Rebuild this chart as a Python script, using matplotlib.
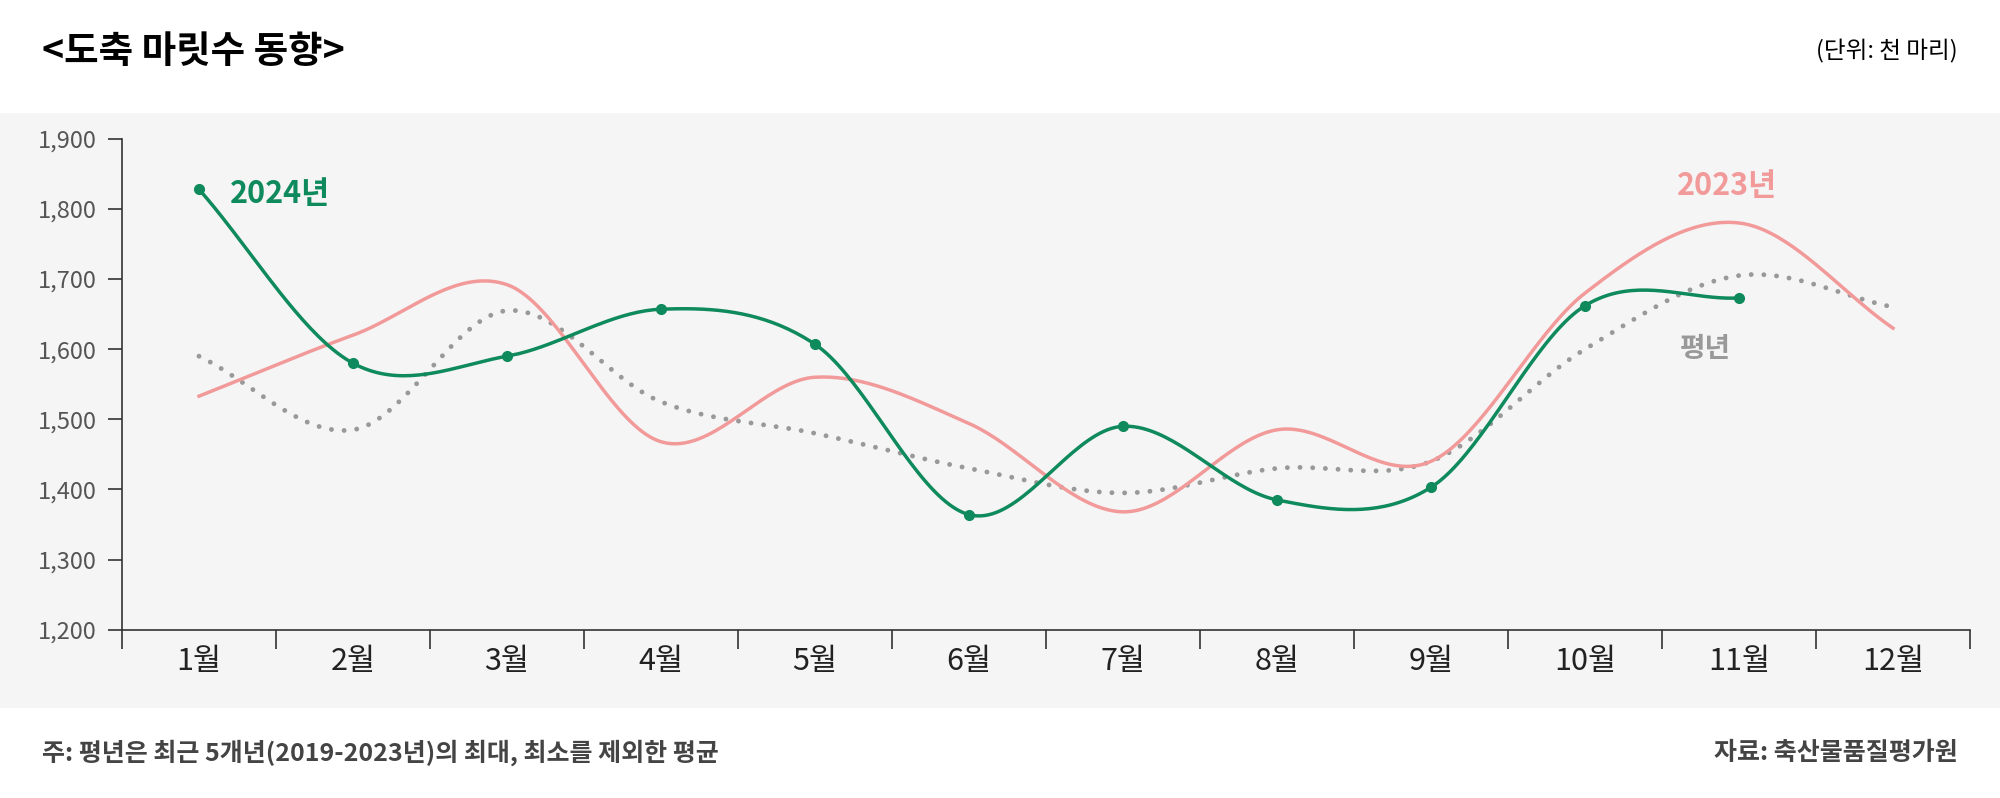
import numpy as np
import matplotlib
matplotlib.use("Agg")
import matplotlib.pyplot as plt
from matplotlib.patches import Rectangle

plt.rcParams["font.family"] = ["Noto Sans CJK KR", "Noto Sans CJK JP", "Noto Sans CJK SC", "DejaVu Sans"]

months = ["1월","2월","3월","4월","5월","6월","7월","8월","9월","10월","11월","12월"]
y2024 = [1828,1580,1590,1657,1607,1364,1490,1385,1403,1662,1673]
y2023 = [1533,1620,1692,1468,1560,1494,1368,1485,1440,1680,1780,1630]
avg = [1590,1485,1655,1525,1480,1430,1395,1430,1440,1600,1705,1660]
yticks = [1200,1300,1400,1500,1600,1700,1800,1900]

def smooth(vals, n=40):
    p = np.asarray(vals, float)
    x = np.arange(len(p), dtype=float)
    pp = np.concatenate([[2*p[0]-p[1]], p, [2*p[-1]-p[-2]]])
    xs, ys = [], []
    for i in range(len(p)-1):
        p0, p1, p2, p3 = pp[i], pp[i+1], pp[i+2], pp[i+3]
        t = np.linspace(0, 1, n, endpoint=False)
        y = 0.5*((2*p1) + (-p0+p2)*t + (2*p0-5*p1+4*p2-p3)*t**2 + (-p0+3*p1-3*p2+p3)*t**3)
        xs.append(x[i]+t); ys.append(y)
    xs.append([x[-1]]); ys.append([p[-1]])
    return np.concatenate(xs), np.concatenate(ys)

fig = plt.figure(figsize=(20, 7.98), dpi=100)
fig.patches.append(Rectangle((0, 0.113), 1, 0.745, transform=fig.transFigure,
                             facecolor="#f5f5f5", edgecolor="none", zorder=-1))
ax = fig.add_axes([0.061, 0.211, 0.924, 0.615])
ax.set_facecolor("none")

green, pink, grey = "#0f8a5c", "#f29a9a", "#999999"
x, y = smooth(avg); ax.plot(x, y, color=grey, lw=3.5, ls=(0, (0.01, 2.6)), dash_capstyle="round")
x, y = smooth(y2023); ax.plot(x, y, color=pink, lw=2.5)
x, y = smooth(y2024); ax.plot(x, y, color=green, lw=2.5)
ax.plot(range(len(y2024)), y2024, "o", color=green, ms=7)

ax.text(0.2, 1822, "2024년", color=green, fontsize=22, fontweight="bold", va="center")
ax.text(9.92, 1833, "2023년", color=pink, fontsize=22, fontweight="bold", va="center", ha="center")
ax.text(9.78, 1600, "평년", color=grey, fontsize=20, fontweight="bold", va="center", ha="center")

ax.set_xlim(-0.5, 11.5)
ax.set_ylim(1200, 1900)
ax.set_yticks(yticks)
ax.set_yticklabels([f"{v:,}" for v in yticks], fontsize=17, color="#555555")
ax.set_xticks(range(12))
ax.set_xticklabels(months, fontsize=22, color="#222222")
ax.tick_params(axis="x", length=0, pad=12)
ax.set_xticks(np.arange(-0.5, 12, 1), minor=True)
ax.tick_params(axis="x", which="minor", length=14, color="#333333", width=1.2)
ax.tick_params(axis="y", length=10, color="#333333", width=1.2, pad=8)
for s in ["top", "right"]:
    ax.spines[s].set_visible(False)
for s in ["left", "bottom"]:
    ax.spines[s].set_color("#333333"); ax.spines[s].set_linewidth(1.2)

fig.text(0.021, 0.935, "<도축 마릿수 동향>", fontsize=27, fontweight="bold", va="center")
fig.text(0.979, 0.935, "(단위: 천 마리)", fontsize=17, va="center", ha="right")
fig.text(0.021, 0.057, "주: 평년은 최근 5개년(2019-2023년)의 최대, 최소를 제외한 평균", fontsize=18,
         fontweight="bold", color="#444444", va="center")
fig.text(0.979, 0.057, "자료: 축산물품질평가원", fontsize=18, fontweight="bold",
         color="#444444", va="center", ha="right")

fig.savefig("out.png", dpi=100, facecolor="white")
